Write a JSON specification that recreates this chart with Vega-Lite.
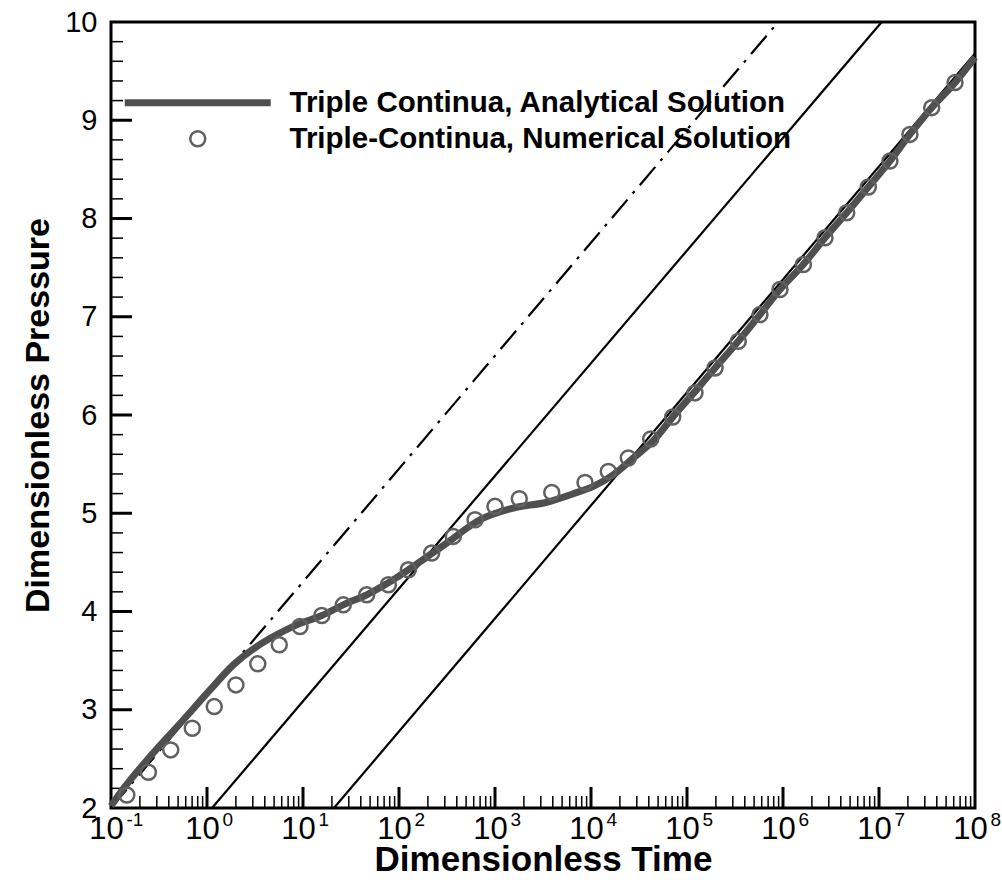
{
  "$schema": "https://vega.github.io/schema/vega-lite/v6.json",
  "width": 864,
  "height": 786,
  "autosize": {"type": "none"},
  "padding": {"left": 111, "top": 22, "right": 27, "bottom": 72},
  "background": "white",
  "config": {
    "view": {"stroke": "black", "strokeWidth": 3},
    "font": "Liberation Sans",
    "axis": {"grid": false, "domain": false, "labelFont": "Liberation Sans", "titleFont": "Liberation Sans", "labelColor": "black", "tickColor": "black", "titleColor": "black", "labelFlush": false, "labelOverlap": false, "labelBound": false}
  },
  "datasets": {
    "xmajor": [
      {"t": 1}, {"t": 10}, {"t": 100}, {"t": 1000}, {"t": 10000}, {"t": 100000}, {"t": 1000000}, {"t": 10000000}
    ],
    "xminor": [
      {"t": 0.2}, {"t": 0.3}, {"t": 0.4}, {"t": 0.5}, {"t": 0.6}, {"t": 0.7}, {"t": 0.8}, {"t": 0.9},
      {"t": 2}, {"t": 3}, {"t": 4}, {"t": 5}, {"t": 6}, {"t": 7}, {"t": 8}, {"t": 9},
      {"t": 20}, {"t": 30}, {"t": 40}, {"t": 50}, {"t": 60}, {"t": 70}, {"t": 80}, {"t": 90},
      {"t": 200}, {"t": 300}, {"t": 400}, {"t": 500}, {"t": 600}, {"t": 700}, {"t": 800}, {"t": 900},
      {"t": 2000}, {"t": 3000}, {"t": 4000}, {"t": 5000}, {"t": 6000}, {"t": 7000}, {"t": 8000}, {"t": 9000},
      {"t": 20000}, {"t": 30000}, {"t": 40000}, {"t": 50000}, {"t": 60000}, {"t": 70000}, {"t": 80000}, {"t": 90000},
      {"t": 200000}, {"t": 300000}, {"t": 400000}, {"t": 500000}, {"t": 600000}, {"t": 700000}, {"t": 800000}, {"t": 900000},
      {"t": 2000000}, {"t": 3000000}, {"t": 4000000}, {"t": 5000000}, {"t": 6000000}, {"t": 7000000}, {"t": 8000000}, {"t": 9000000},
      {"t": 20000000}, {"t": 30000000}, {"t": 40000000}, {"t": 50000000}, {"t": 60000000}, {"t": 70000000}, {"t": 80000000}, {"t": 90000000}
    ],
    "ymajor": [
      {"P": 3}, {"P": 4}, {"P": 5}, {"P": 6}, {"P": 7}, {"P": 8}, {"P": 9}
    ],
    "yminor": [
      {"P": 2.2}, {"P": 2.4}, {"P": 2.6}, {"P": 2.8}, {"P": 3.2}, {"P": 3.4}, {"P": 3.6}, {"P": 3.8},
      {"P": 4.2}, {"P": 4.4}, {"P": 4.6}, {"P": 4.8}, {"P": 5.2}, {"P": 5.4}, {"P": 5.6}, {"P": 5.8},
      {"P": 6.2}, {"P": 6.4}, {"P": 6.6}, {"P": 6.8}, {"P": 7.2}, {"P": 7.4}, {"P": 7.6}, {"P": 7.8},
      {"P": 8.2}, {"P": 8.4}, {"P": 8.6}, {"P": 8.8}, {"P": 9.2}, {"P": 9.4}, {"P": 9.6}, {"P": 9.8}
    ],
    "dashdot": [
      {"t": 0.1, "P": 2.0},
      {"t": 893000, "P": 10.0}
    ],
    "solid": [
      {"line": "a", "t": 1.127, "P": 2.0},
      {"line": "a", "t": 10670000, "P": 10.0},
      {"line": "b", "t": 21.0, "P": 2.0},
      {"line": "b", "t": 100000000, "P": 9.68}
    ],
    "analytical": [
      {"t": 0.1, "P": 2.02},
      {"t": 0.124, "P": 2.15},
      {"t": 0.255, "P": 2.523},
      {"t": 0.566, "P": 2.896},
      {"t": 1.075, "P": 3.202},
      {"t": 1.88, "P": 3.457},
      {"t": 3.3, "P": 3.643},
      {"t": 4.91, "P": 3.745},
      {"t": 8.59, "P": 3.864},
      {"t": 15.7, "P": 3.959},
      {"t": 26.3, "P": 4.068},
      {"t": 46.1, "P": 4.17},
      {"t": 77.5, "P": 4.292},
      {"t": 141, "P": 4.458},
      {"t": 314, "P": 4.697},
      {"t": 698, "P": 4.934},
      {"t": 1552, "P": 5.053},
      {"t": 3459, "P": 5.112},
      {"t": 6546, "P": 5.199},
      {"t": 10570, "P": 5.273},
      {"t": 17070, "P": 5.392},
      {"t": 27600, "P": 5.563},
      {"t": 44570, "P": 5.739},
      {"t": 71970, "P": 5.986},
      {"t": 126100, "P": 6.258},
      {"t": 196000, "P": 6.479},
      {"t": 342000, "P": 6.75},
      {"t": 576000, "P": 7.022},
      {"t": 931000, "P": 7.277},
      {"t": 1626000, "P": 7.532},
      {"t": 2740000, "P": 7.804},
      {"t": 4610000, "P": 8.058},
      {"t": 7740000, "P": 8.321},
      {"t": 13000000, "P": 8.584},
      {"t": 21000000, "P": 8.856},
      {"t": 35400000, "P": 9.128},
      {"t": 61900000, "P": 9.383},
      {"t": 100000000, "P": 9.641}
    ],
    "numerical": [
      {"t": 0.146, "P": 2.132},
      {"t": 0.245, "P": 2.364},
      {"t": 0.419, "P": 2.591},
      {"t": 0.703, "P": 2.812},
      {"t": 1.19, "P": 3.032},
      {"t": 2.0, "P": 3.253},
      {"t": 3.38, "P": 3.467},
      {"t": 5.66, "P": 3.661},
      {"t": 9.3, "P": 3.847},
      {"t": 15.7, "P": 3.959},
      {"t": 26.3, "P": 4.068},
      {"t": 46.1, "P": 4.17},
      {"t": 77.5, "P": 4.272},
      {"t": 125, "P": 4.425},
      {"t": 219, "P": 4.595},
      {"t": 368, "P": 4.764},
      {"t": 619, "P": 4.934},
      {"t": 1000, "P": 5.07},
      {"t": 1791, "P": 5.148},
      {"t": 3900, "P": 5.212},
      {"t": 8660, "P": 5.314},
      {"t": 15140, "P": 5.426},
      {"t": 24480, "P": 5.562},
      {"t": 41900, "P": 5.756},
      {"t": 71000, "P": 5.98},
      {"t": 121000, "P": 6.225},
      {"t": 196000, "P": 6.479},
      {"t": 342000, "P": 6.75},
      {"t": 576000, "P": 7.022},
      {"t": 930000, "P": 7.277},
      {"t": 1630000, "P": 7.532},
      {"t": 2740000, "P": 7.804},
      {"t": 4610000, "P": 8.058},
      {"t": 7740000, "P": 8.321},
      {"t": 13000000, "P": 8.584},
      {"t": 21000000, "P": 8.856},
      {"t": 35400000, "P": 9.128},
      {"t": 61900000, "P": 9.383}
    ]
  },
  "layer": [
    {
      "data": {"name": "xmajor"},
      "mark": {"type": "tick", "orient": "vertical", "color": "black", "opacity": 1, "size": 21, "thickness": 3, "yOffset": -10.5},
      "encoding": {
        "x": {"field": "t", "type": "quantitative", "scale": {"type": "log", "domain": [0.1, 100000000], "nice": false}, "axis": null},
        "y": {"datum": 2, "type": "quantitative", "scale": {"domain": [2, 10], "nice": false, "zero": false}, "axis": null}
      }
    },
    {
      "data": {"name": "xminor"},
      "mark": {"type": "tick", "orient": "vertical", "color": "black", "opacity": 1, "size": 12, "thickness": 1.5, "yOffset": -6},
      "encoding": {
        "x": {"field": "t", "type": "quantitative", "scale": {"type": "log", "domain": [0.1, 100000000], "nice": false}, "axis": null},
        "y": {"datum": 2, "type": "quantitative", "scale": {"domain": [2, 10], "nice": false, "zero": false}, "axis": null}
      }
    },
    {
      "data": {"name": "ymajor"},
      "mark": {"type": "tick", "orient": "horizontal", "color": "black", "opacity": 1, "size": 21, "thickness": 3, "xOffset": 10.5},
      "encoding": {
        "y": {"field": "P", "type": "quantitative", "scale": {"domain": [2, 10], "nice": false, "zero": false}, "axis": null},
        "x": {"datum": 0.1, "type": "quantitative", "scale": {"type": "log", "domain": [0.1, 100000000], "nice": false}, "axis": null}
      }
    },
    {
      "data": {"name": "yminor"},
      "mark": {"type": "tick", "orient": "horizontal", "color": "black", "opacity": 1, "size": 12, "thickness": 1.5, "xOffset": 6},
      "encoding": {
        "y": {"field": "P", "type": "quantitative", "scale": {"domain": [2, 10], "nice": false, "zero": false}, "axis": null},
        "x": {"datum": 0.1, "type": "quantitative", "scale": {"type": "log", "domain": [0.1, 100000000], "nice": false}, "axis": null}
      }
    },
    {
      "data": {"name": "dashdot"},
      "mark": {"type": "line", "color": "black", "strokeWidth": 2.2, "strokeDash": [24, 8, 3, 8]},
      "encoding": {
        "x": {"field": "t", "type": "quantitative", "scale": {"type": "log", "domain": [0.1, 100000000], "nice": false}, "axis": null},
        "y": {"field": "P", "type": "quantitative", "scale": {"domain": [2, 10], "nice": false, "zero": false}, "axis": null}
      }
    },
    {
      "data": {"name": "solid"},
      "mark": {"type": "line", "color": "black", "strokeWidth": 2.2},
      "encoding": {
        "detail": {"field": "line"},
        "x": {"field": "t", "type": "quantitative", "scale": {"type": "log", "domain": [0.1, 100000000], "nice": false}, "axis": null},
        "y": {"field": "P", "type": "quantitative", "scale": {"domain": [2, 10], "nice": false, "zero": false}, "axis": null}
      }
    },
    {
      "data": {"name": "analytical"},
      "mark": {"type": "line", "strokeWidth": 7, "interpolate": "monotone"},
      "encoding": {
        "x": {"field": "t", "type": "quantitative", "scale": {"type": "log", "domain": [0.1, 100000000], "nice": false},
          "axis": {"orient": "bottom", "values": [0.1, 1, 10, 100, 1000, 10000, 100000, 1000000, 10000000, 100000000],
            "ticks": false, "tickSize": 0,
            "labelExpr": "'10'", "labelFontSize": 31, "labelPadding": 6.5, "labelOffset": -5,
            "title": "Dimensionless Time", "titleFontSize": 35, "titleFontWeight": "bold", "titlePadding": -2}},
        "y": {"field": "P", "type": "quantitative", "scale": {"domain": [2, 10], "nice": false, "zero": false},
          "axis": {"orient": "left", "values": [2, 3, 4, 5, 6, 7, 8, 9, 10],
            "ticks": false, "tickSize": 0,
            "labelFontSize": 29, "labelPadding": 14,
            "title": "Dimensionless Pressure", "titleFontSize": 34, "titleFontWeight": "bold", "titlePadding": 9}},
        "color": {"datum": "Triple Continua, Analytical Solution", "type": "nominal",
          "scale": {"domain": ["Triple Continua, Analytical Solution", "Triple-Continua, Numerical Solution"], "range": ["#4f4f4f", "#606060"]},
          "legend": {"title": null, "orient": "none", "legendX": 72, "legendY": 66, "padding": 0, "labelFont": "Liberation Sans", "labelFontSize": 29.5, "labelFontWeight": "bold", "labelColor": "black", "labelOffset": 77, "labelLimit": 1000, "rowPadding": 5, "symbolSize": 225, "symbolType": "circle", "symbolStrokeWidth": 2.5, "symbolFillColor": "transparent",
            "encode": {"symbols": {"update": {
              "shape": {"signal": "datum.value === 'Triple Continua, Analytical Solution' ? 'stroke' : 'circle'"},
              "size": {"signal": "datum.value === 'Triple Continua, Analytical Solution' ? 21316 : 225"},
              "strokeWidth": {"signal": "datum.value === 'Triple Continua, Analytical Solution' ? 7 : 2.5"},
              "fill": {"value": "transparent"}
            }}}}}
      }
    },
    {
      "data": {"name": "numerical"},
      "mark": {"type": "point", "filled": false, "strokeWidth": 2.5, "size": 225, "opacity": 1},
      "encoding": {
        "x": {"field": "t", "type": "quantitative", "scale": {"type": "log", "domain": [0.1, 100000000], "nice": false},
          "axis": {"orient": "bottom", "values": [0.1, 1, 10, 100, 1000, 10000, 100000, 1000000, 10000000, 100000000],
            "ticks": false, "tickSize": 0,
            "labelExpr": "round(log(datum.value)/LN10) + ''", "labelFontSize": 19, "labelAlign": "left", "labelPadding": 2.6, "labelOffset": 15, "title": null}},
        "y": {"field": "P", "type": "quantitative", "scale": {"domain": [2, 10], "nice": false, "zero": false}, "axis": null},
        "color": {"datum": "Triple-Continua, Numerical Solution", "type": "nominal"}
      }
    }
  ],
  "resolve": {"axis": {"x": "independent", "y": "independent"}}
}
